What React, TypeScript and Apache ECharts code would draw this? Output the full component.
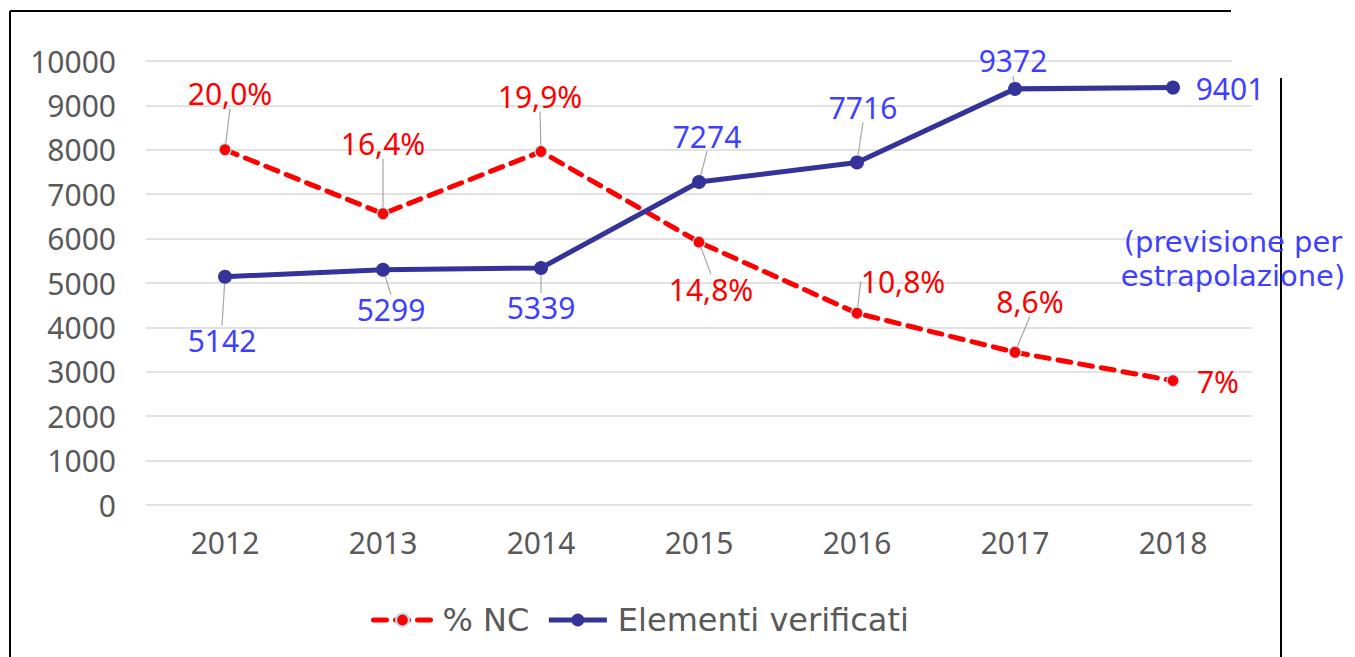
import React, { useEffect, useRef } from "react";
import * as echarts from "echarts";

const years = ["2012", "2013", "2014", "2015", "2016", "2017", "2018"];
const pctNC = [20.0, 16.4, 19.9, 14.8, 10.8, 8.6, 7];
const pctLabels = ["20,0%", "16,4%", "19,9%", "14,8%", "10,8%", "8,6%", "7%"];
const elementi = [5142, 5299, 5339, 7274, 7716, 9372, 9401];
const noteLines = ["(previsione per", "estrapolazione)"];

// label offsets (style only)
const redOff = [[5, -56], [0, -70], [-1, -55], [12, 47], [46, -32], [15, -51], [45, 1]];
const blueOff = [[-3, 64], [8, 40], [0, 40], [8, -46], [6, -55], [-2, -28], [57, 1]];

const FONT = "'Noto Sans', 'Open Sans', sans-serif";
const WIDE = "'DejaVu Sans', sans-serif";

export default function App() {
  const ref = useRef<HTMLDivElement>(null);
  useEffect(() => {
    if (!ref.current) return;
    const chart = echarts.init(ref.current, null, { renderer: "svg" });
    const lastIdx = years.length - 1;
    chart.setOption({
      animation: false,
      backgroundColor: "#ffffff",
      grid: { left: 146, top: 61, width: 1106, height: 444, containLabel: false },
      xAxis: {
        type: "category",
        data: years,
        boundaryGap: true,
        axisLine: { show: false },
        axisTick: { show: false },
        axisLabel: { color: "#595959", fontSize: 30, fontFamily: FONT, margin: 22 },
      },
      yAxis: [
        {
          type: "value",
          min: 0,
          max: 10000,
          interval: 1000,
          axisLine: { show: false },
          axisTick: { show: false },
          splitLine: { lineStyle: { color: "#d9d9d9", width: 1.5 } },
          axisLabel: {
            color: "#595959",
            fontSize: 30,
            fontFamily: FONT,
            margin: 30,
            formatter: (v: number) => String(v),
          },
        },
        { type: "value", min: 0, max: 25, show: false, splitLine: { show: false } },
      ],
      legend: {
        left: 366,
        top: 599,
        itemWidth: 58,
        itemHeight: 16,
        itemGap: 17,
        textStyle: { color: "#595959", fontSize: 32, fontFamily: WIDE, padding: [0, 0, 0, 6] },
        data: [
          { name: "% NC", lineStyle: { width: 5 } },
          { name: "Elementi verificati", lineStyle: { width: 5 } },
        ],
      },
      series: [
        {
          name: "% NC",
          type: "line",
          yAxisIndex: 1,
          data: pctNC.map((v, i) => ({
            value: v,
            labelLine: { show: i !== lastIdx },
          })),
          symbol: "circle",
          symbolSize: 12,
          itemStyle: { color: "#ff0000", borderColor: "#b8e2ec", borderWidth: 1.2 },
          lineStyle: { color: "#ff0000", width: 5, type: [13, 9], cap: "round" },
          z: 3,
          label: {
            show: true,
            position: "inside",
            color: "#ff0000",
            fontSize: 30,
            fontFamily: FONT,
            formatter: (p: any) => pctLabels[p.dataIndex],
          },
          labelLine: { show: true, lineStyle: { color: "#a6a6a6", width: 1.2 } },
          labelLayout: (p: any) => ({ dx: redOff[p.dataIndex][0], dy: redOff[p.dataIndex][1] }),
        },
        {
          name: "Elementi verificati",
          type: "line",
          data: elementi.map((v, i) => ({
            value: v,
            labelLine: { show: i !== lastIdx },
          })),
          symbol: "circle",
          symbolSize: 14,
          itemStyle: { color: "#333399" },
          lineStyle: { color: "#333399", width: 5 },
          z: 4,
          label: {
            show: true,
            position: "inside",
            color: "#3f3fff",
            fontSize: 30,
            fontFamily: FONT,
          },
          labelLine: { show: true, lineStyle: { color: "#a6a6a6", width: 1.2 } },
          labelLayout: (p: any) => ({ dx: blueOff[p.dataIndex][0], dy: blueOff[p.dataIndex][1] }),
        },
      ],
      graphic: [
        { type: "rect", z: 1, shape: { x: 1232, y: 0, width: 123, height: 70 }, style: { fill: "#ffffff" } },
        { type: "line", z: 5, shape: { x1: 10, y1: 11, x2: 1231, y2: 11 }, style: { stroke: "#000000", lineWidth: 2 } },
        { type: "line", z: 5, shape: { x1: 10, y1: 11, x2: 10, y2: 657 }, style: { stroke: "#000000", lineWidth: 2 } },
        { type: "line", z: 5, shape: { x1: 1281, y1: 78, x2: 1281, y2: 657 }, style: { stroke: "#000000", lineWidth: 2 } },
        {
          type: "text",
          z: 6,
          x: 1233,
          y: 259,
          style: {
            text: noteLines.join("\n"),
            fill: "#3f3fff",
            fontSize: 29,
            fontFamily: WIDE,
            lineHeight: 34,
            align: "center",
            verticalAlign: "middle",
          },
        },
      ],
    });
    return () => chart.dispose();
  }, []);
  return (
    <div
      ref={ref}
      style={{ position: "fixed", left: 0, top: 0, width: 1355, height: 657, background: "#fff" }}
    />
  );
}
